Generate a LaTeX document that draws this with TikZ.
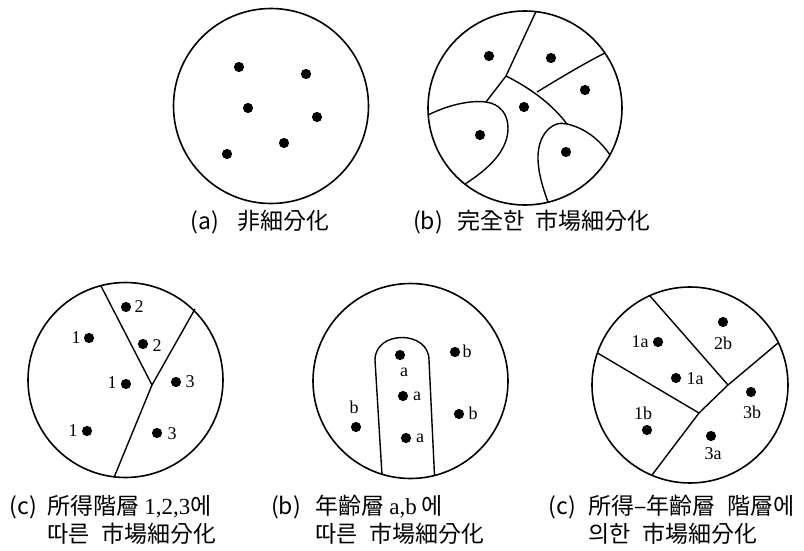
\documentclass[tikz,border=0pt]{standalone}
\usepackage{fontspec}
\newfontfamily\kr{Noto Sans CJK KR}
\newfontfamily\tms{Liberation Serif}
\usetikzlibrary{positioning}
\tikzset{
  rim/.style  ={line width=1.6pt},
  cut/.style  ={line width=1.4pt,line join=round},
  seg/.style  ={font=\tms\fontsize{18}{20}\selectfont,inner sep=0pt},
  capt/.style ={font=\kr\fontsize{23}{28}\selectfont,inner sep=0pt,anchor=base west},
}
\def\dotr{5.1}

\begin{document}
\begin{tikzpicture}[x=1pt,y=-1pt]
  \useasboundingbox (0,0) rectangle (804,551);

  % (a) no segmentation
  \draw[rim] (271,106) circle[radius=97.5];
  \foreach \x/\y in {239/67, 306/74, 248/108, 317/117, 284/143, 227/154}
    \fill (\x,\y) circle[radius=\dotr];

  % (b) full segmentation
  \draw[rim] (525,108) circle[radius=97];
  \draw[cut] (536,11.5) -- (506,76) -- (486,102);
  \draw[cut] (506,76) .. controls (530,88) and (552,104) .. (567,124);
  \draw[cut] (537,92) .. controls (560,78) and (585,63) .. (605,53);
  \draw[cut] (428,115) .. controls (448,105) and (470,100) .. (486,102)
             .. controls (500,104) and (508,114) .. (508,128)
             .. controls (508,150) and (490,168) .. (465,184);
  \draw[cut] (548,202) .. controls (538,175) and (533,150) .. (545,133)
             .. controls (552,124) and (560,122) .. (567,124)
             .. controls (585,128) and (600,140) .. (610,155);
  \foreach \x/\y in {489/56, 551/58, 585/90, 524/107, 480/135, 566/152}
    \fill (\x,\y) circle[radius=\dotr];

  % (c) income classes
  \draw[rim] (125.5,380) circle[radius=97.5];
  \draw[cut] (101,286) -- (152,385);
  \draw[cut] (195,309) -- (152,385) -- (114,477.5);
  \foreach \x/\y in {126/307, 143/344, 126/384, 89/338, 87/431, 176/382, 157/433}
    \fill (\x,\y) circle[radius=\dotr];
  \foreach \x/\y/\t [count=\i] in {139/307/2, 157/346/2, 112/383/1, 76/338/1,
                                   73/431/1, 190/382/3, 172/434/3}
    \node[seg] (inc\i) at (\x,\y) {\t};

  % (b) age groups
  \draw[rim] (410.5,381) circle[radius=97.5];
  \draw[cut] (382,475) -- (375,360) .. controls (375,330) and (429,330) .. (429,360)
             -- (434.5,475.5);
  \foreach \x/\y in {400/355, 403/396, 406/438, 455/352, 459/414, 356/427}
    \fill (\x,\y) circle[radius=\dotr];
  \foreach \x/\y/\t [count=\i] in {404/372/a, 417/396/a, 420/438/a,
                                   467/351/b, 473/413/b, 354/407/b}
    \node[seg] (age\i) at (\x,\y) {\t};

  % (c) income x age
  \draw[rim] (690,385) circle[radius=98];
  \draw[cut] (650,296) -- (728,385);
  \draw[cut] (778,343) -- (728,385) -- (699,413) -- (652,475);
  \draw[cut] (597.5,353) -- (699,413);
  \foreach \x/\y in {658/342, 676/378, 723/322, 751/392, 711/436, 647/430}
    \fill (\x,\y) circle[radius=\dotr];
  \foreach \x/\y/\t [count=\i] in {640/342/1a, 695/379/1a, 723/343/2b,
                                   752/412/3b, 713/454/3a, 643/413/1b}
    \node[seg] (mix\i) at (\x,\y) {\t};

  % captions
  \node[capt] (capA) at (237,229) {非細分化};
  \node[capt,left=18pt of capA.base west,anchor=base east] (tagA) {(a)};
  \node[capt] (capB) at (457,229) {完全한\hspace{.5em}市場細分化};
  \node[capt,left=14pt of capB.base west,anchor=base east] (tagB) {(b)};

  \node[capt] (capC1) at (47,514) {所得階層 {\tms 1,2,3}에};
  \node[capt] (capC2) at (47,542) {따른\hspace{.5em}市場細分化};
  \node[capt,left=10pt of capC1.base west,anchor=base east] (tagC) {(c)};

  \node[capt] (capD1) at (315,514) {年齡層 {\tms a,b} 에};
  \node[capt] (capD2) at (315,542) {따른\hspace{.5em}市場細分化};
  \node[capt,left=14pt of capD1.base west,anchor=base east] (tagD) {(b)};

  \node[capt] (capE1) at (588,514) {所得–年齡層\hspace{.5em}階層에};
  \node[capt] (capE2) at (588,542) {의한\hspace{.5em}市場細分化};
  \node[capt,left=12pt of capE1.base west,anchor=base east] (tagE) {(c)};
\end{tikzpicture}
\end{document}
